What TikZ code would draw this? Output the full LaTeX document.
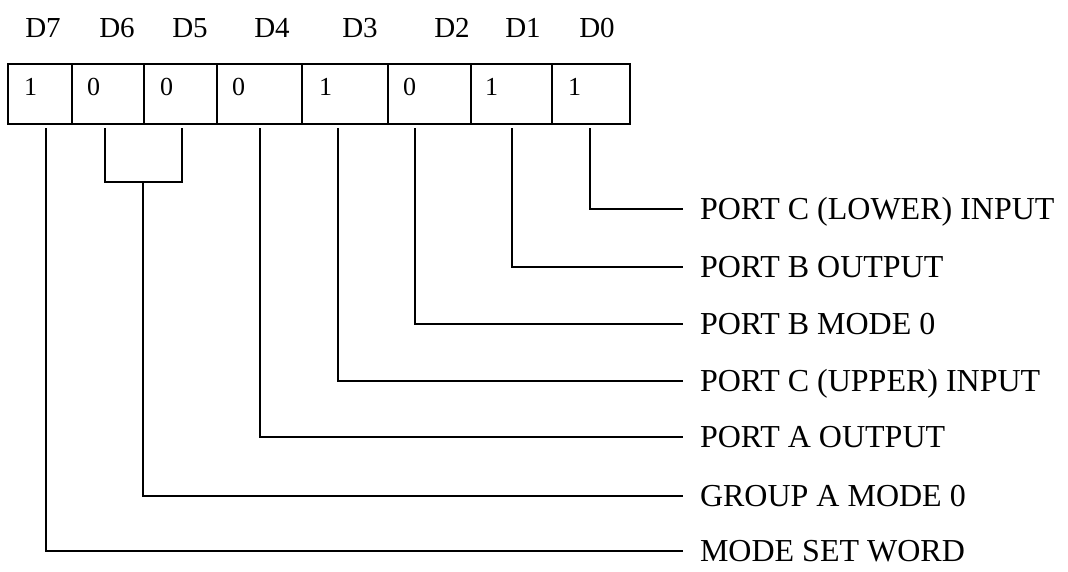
\documentclass[tikz,border=0pt]{standalone}
\usepackage{fontspec}
\setmainfont{Liberation Serif}
\usetikzlibrary{calc}
\begin{document}
\begin{tikzpicture}[x=1pt,y=-1pt,
  cell/.style={draw, line width=2pt, minimum height=60pt, inner sep=0pt, outer sep=0pt, anchor=north west},
  lead/.style={line width=1.3pt},
  bitlbl/.style={font=\fontsize{29}{34}\selectfont, anchor=base, inner sep=0pt},
  digit/.style={font=\fontsize{26}{30}\selectfont, anchor=base west, inner sep=0pt},
  desc/.style={font=\fontsize{32}{38}\selectfont, anchor=west, inner xsep=17pt, inner ysep=0pt, text height=21pt, text depth=0pt, outer sep=0pt}]
\useasboundingbox (0,0) rectangle (1068,571);

% register cells
\node[cell, minimum width=64pt] (c7) at (8,64) {};
\node[cell, minimum width=72pt] (c6) at (72,64) {};
\node[cell, minimum width=73pt] (c5) at (144,64) {};
\node[cell, minimum width=85pt] (c4) at (217,64) {};
\node[cell, minimum width=86pt] (c3) at (302,64) {};
\node[cell, minimum width=83pt] (c2) at (388,64) {};
\node[cell, minimum width=81pt] (c1) at (471,64) {};
\node[cell, minimum width=78pt] (c0) at (552,64) {};

% bit values
\node[digit] (v7) at ($(c7.north west)+(16,31)$) {1};
\node[digit] (v6) at ($(c6.north west)+(15,31)$) {0};
\node[digit] (v5) at ($(c5.north west)+(16,31)$) {0};
\node[digit] (v4) at ($(c4.north west)+(15,31)$) {0};
\node[digit] (v3) at ($(c3.north west)+(17,31)$) {1};
\node[digit] (v2) at ($(c2.north west)+(15,31)$) {0};
\node[digit] (v1) at ($(c1.north west)+(14,31)$) {1};
\node[digit] (v0) at ($(c0.north west)+(16,31)$) {1};

% bit names
\node[bitlbl] (d7) at (43,37) {D7};
\node[bitlbl] (d6) at (117,37) {D6};
\node[bitlbl] (d5) at (190,37) {D5};
\node[bitlbl] (d4) at (272,37) {D4};
\node[bitlbl] (d3) at (360,37) {D3};
\node[bitlbl] (d2) at (452,37) {D2};
\node[bitlbl] (d1) at (523,37) {D1};
\node[bitlbl] (d0) at (597,37) {D0};

% descriptions
\node[desc] (l0) at (683,209) {PORT C (LOWER) INPUT};
\node[desc] (l1) at (683,267) {PORT B OUTPUT};
\node[desc] (l2) at (683,324) {PORT B MODE 0};
\node[desc] (l3) at (683,381) {PORT C (UPPER) INPUT};
\node[desc] (l4) at (683,437) {PORT A OUTPUT};
\node[desc] (l5) at (683,496) {GROUP A MODE 0};
\node[desc] (l6) at (683,551) {MODE SET WORD};

% line start points below the cells
\coordinate (t0) at (590,128);
\coordinate (t1) at (512,128);
\coordinate (t2) at (415,128);
\coordinate (t3) at (338,128);
\coordinate (t4) at (260,128);
\coordinate (t5) at (182,128);
\coordinate (t6) at (105,128);
\coordinate (t7) at (46,128);
\coordinate (bm) at (143,182);

% connectors
\draw[lead] (t0) |- (l0.west);
\draw[lead] (t1) |- (l1.west);
\draw[lead] (t2) |- (l2.west);
\draw[lead] (t3) |- (l3.west);
\draw[lead] (t4) |- (l4.west);
\draw[lead] (t6) |- (bm) -| (t5);
\draw[lead] (bm) |- (l5.west);
\draw[lead] (t7) |- (l6.west);
\end{tikzpicture}
\end{document}
